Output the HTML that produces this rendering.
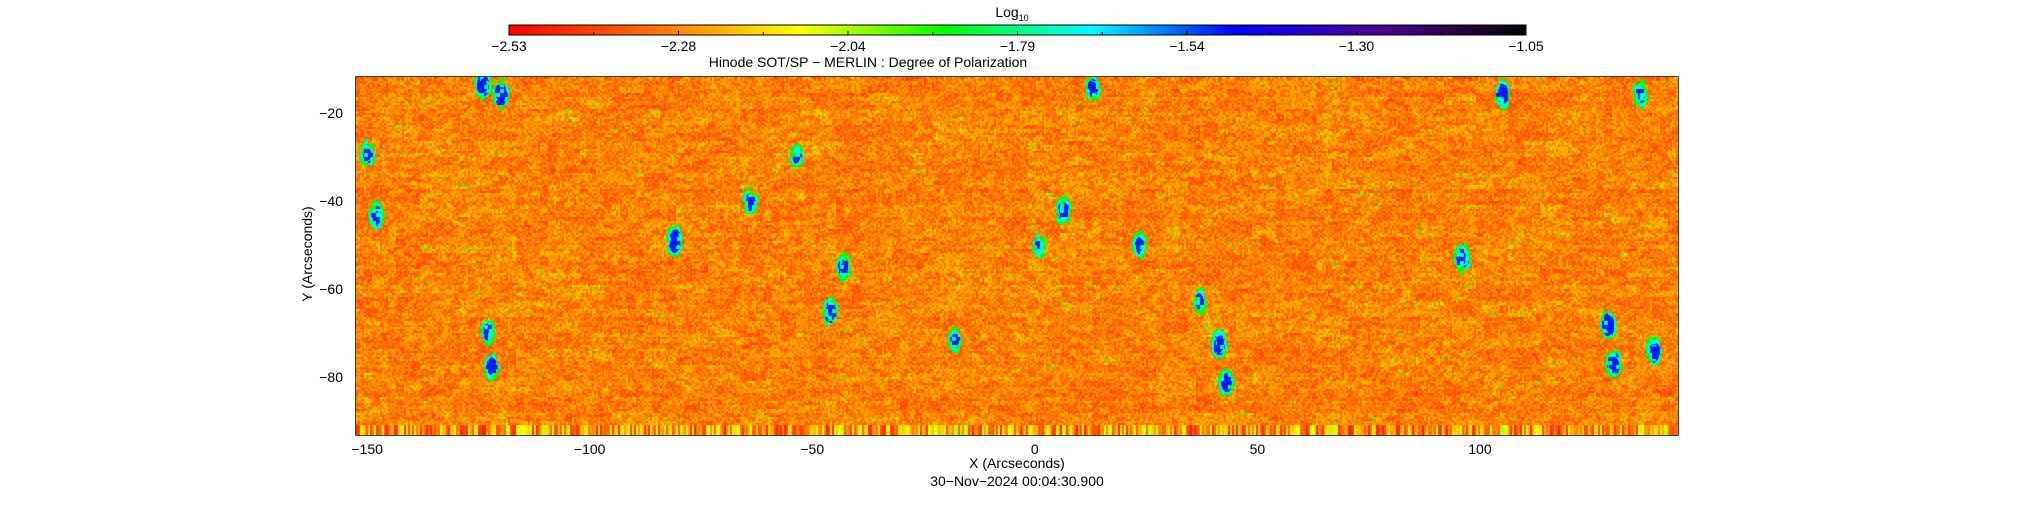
<!DOCTYPE html>
<html><head><meta charset="utf-8">
<style>
html,body{margin:0;padding:0;background:#fff;}
#wrap{position:relative;width:2034px;height:512px;overflow:hidden;font-family:"Liberation Sans",sans-serif;color:#000;}
.t{position:absolute;font-size:14px;white-space:nowrap;}
</style></head>
<body>
<div id="wrap">
<svg id="svg" width="2034" height="512" style="position:absolute;left:0;top:0"></svg>
<canvas id="cv" width="1322" height="358" style="position:absolute;left:356px;top:77px"></canvas>
</div>
<script>
// ---- data ----
const cbLabels = ["-2.53","-2.28","-2.04","-1.79","-1.54","-1.30","-1.05"];
const cbStops = ["#ff0000","#ff7000","#ffff00","#00ff00","#00ffff","#0000ff","#500090","#000000"];
const xTicks = [-150,-100,-50,0,50,100];
const yTicks = [-20,-40,-60,-80];
const xRange = [-152.5,144.5];
const yRange = [-11.5,-93];
// magnetic patch features (arcsec x, arcsec y, strength)
const patchX = [-124,-120,-150,-148,-81,-64,-53.5,-43,-46,-18,6.4,1,13,23.5,37,41.4,43,96,105,128.7,130,139,136,-122,-123];
const patchY = [-13.2,-15.3,-28.9,-42.8,-48.7,-39.8,-29.5,-54.6,-64.9,-71.5,-41.9,-50,-14,-49.6,-62.6,-72.4,-81,-52.6,-15.3,-67.9,-76.7,-73.8,-15.3,-77.4,-69.4];
const patchS = [1,1,0.8,0.8,1,0.8,0.6,0.8,0.9,0.7,0.9,0.7,0.8,0.7,0.7,1,0.9,1,0.9,1,1,0.9,0.8,0.8,0.7];

const PL=356,PR=1678,PT=77,PB=435;
const xs=v=>PL+(v-xRange[0])/(xRange[1]-xRange[0])*(PR-PL);
const ys=v=>PT+(v-yRange[0])/(yRange[1]-yRange[0])*(PB-PT);
const NS="http://www.w3.org/2000/svg";
const svg=document.getElementById('svg');
const wrap=document.getElementById('wrap');
function mk(tag,at){const e=document.createElementNS(NS,tag);for(const k in at)e.setAttribute(k,at[k]);svg.appendChild(e);return e;}
function txt(s,x,y,anchor,name){const e=document.createElement('div');e.className='t';e.textContent=s;e.style.left=x+'px';e.style.top=y+'px';
 if(anchor==='middle')e.style.transform='translateX(-50%)';else if(anchor==='end')e.style.transform='translateX(-100%)';
 
 
 wrap.appendChild(e);return e;}

// colorbar
const CBL=509,CBR=1526,CBT=25,CBB=35;
const defs=mk('defs',{});
const lg=document.createElementNS(NS,'linearGradient');lg.setAttribute('id','cbg');defs.appendChild(lg);
cbStops.forEach((c,i)=>{const s=document.createElementNS(NS,'stop');s.setAttribute('offset',i/(cbStops.length-1));s.setAttribute('stop-color',c);lg.appendChild(s);});
const cb=mk('rect',{x:CBL,y:CBT,width:CBR-CBL,height:CBB-CBT,fill:'url(#cbg)',stroke:'#000','stroke-width':1});


for(let i=0;i<=12;i++){const x=CBL+i*(CBR-CBL)/12;mk('line',{x1:x,x2:x,y1:CBB-(i%2?3:4),y2:CBB,stroke:'#000','stroke-width':1});}
cbLabels.forEach((l,i)=>{txt(l.replace('-','\u2212'),CBL+i*(CBR-CBL)/6,38,'middle','colorbar-tick-label');});
const lt=txt('',1012,4,'middle','colorbar-title');lt.innerHTML='Log<sub style="font-size:9px">10</sub>';

txt('Hinode SOT/SP \u2212 MERLIN : Degree of Polarization',868,54,'middle','chart-title');

// heatmap texture
const cv=document.getElementById('cv');const ctx=cv.getContext('2d');
const W=cv.width,H=cv.height;
const img=ctx.createImageData(W,H);
function h(a,b){let n=(a*374761393+b*668265263)|0;n=(n^(n>>>13))*1274126177|0;n=n^(n>>>16);return ((n>>>0)%10000)/10000;}
function val(x,y){const cx=x>>1,cy=y>>1;
 return 0.5*h(cx,cy)+0.25*h(cx>>2,cy>>1)+0.15*h(cx>>4,cy>>3)+0.1*h(0,cy);}
function colAt(t){
 const n=cbStops.length-1;const p=Math.max(0,Math.min(0.9999,t))*n;const i=Math.floor(p),f=p-i;
 const a=hex(cbStops[i]),b=hex(cbStops[i+1]);return [a[0]+(b[0]-a[0])*f,a[1]+(b[1]-a[1])*f,a[2]+(b[2]-a[2])*f];}
function hex(s){return [parseInt(s.substr(1,2),16),parseInt(s.substr(3,2),16),parseInt(s.substr(5,2),16)];}
const px=patchX.map(v=>xs(v)-PL),py=patchY.map(v=>ys(v)-PT);
for(let y=0;y<H;y++)for(let x=0;x<W;x++){
 let v=val(x,y);
 let t=0.06+v*0.2;
 if(v>0.78&&h(x>>1,(y>>1)+999)>0.85)t=0.4;
 let p=0;
 for(let k=0;k<px.length;k++){const dx=(x-px[k])/5,dy=(y-py[k])/9;const d=dx*dx+dy*dy;if(d<9)p=Math.max(p,patchS[k]*Math.exp(-d*0.5)*(0.5+0.9*h(x>>2,y>>2)));}
 if(p>0.55)t=0.7;else if(p>0.35)t=0.55;else if(p>0.22)t=0.43;
 if(y>=H-10){t=0.03+0.3*h(x>>1,7);}
 const c=colAt(t);const o=(y*W+x)*4;img.data[o]=c[0];img.data[o+1]=c[1];img.data[o+2]=c[2];img.data[o+3]=255;}
ctx.putImageData(img,0,0);

const fr=mk('rect',{x:PL,y:PT,width:PR-PL,height:PB-PT,fill:'none',stroke:'#000','stroke-width':1.5});


for(let v=-150;v<=140;v+=10){const x=xs(v);const L=(v%50===0)?14:7;
 mk('line',{x1:x,x2:x,y1:PB,y2:PB-L,stroke:'#000','stroke-width':1});mk('line',{x1:x,x2:x,y1:PT,y2:PT+L,stroke:'#000','stroke-width':1});}
xTicks.forEach(v=>txt(String(v).replace('-','\u2212'),xs(v),441,'middle','x-tick-label'));
for(let v=-15;v>=-90;v-=5){const y=ys(v);const L=(v%20===0)?14:7;
 mk('line',{x1:PL,x2:PL+L,y1:y,y2:y,stroke:'#000','stroke-width':1});mk('line',{x1:PR,x2:PR-L,y1:y,y2:y,stroke:'#000','stroke-width':1});}
yTicks.forEach(v=>txt(String(v).replace('-','\u2212'),343,ys(v)-9,'end','y-tick-label'));
txt('X (Arcseconds)',1017,455,'middle','x-axis-title');
const yt=txt('Y (Arcseconds)',307,254,'middle','y-axis-title');yt.style.transform='translate(-50%,-50%) rotate(-90deg)';yt.style.top='254px';
txt('30\u2212Nov\u22122024 00:04:30.900',1017,473,'middle','timestamp');
</script>
</body></html>
